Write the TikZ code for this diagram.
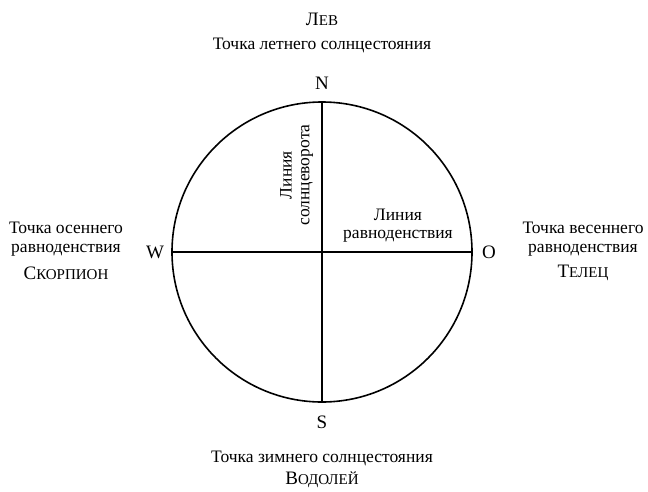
\documentclass[tikz,border=0pt]{standalone}
\usepackage{fontspec}
\setmainfont{Liberation Serif}
\newcommand{\bigc}[1]{{\fontsize{19}{21}\selectfont #1}}
\newcommand{\smc}[1]{{\fontsize{15}{17}\selectfont #1}}
\begin{document}
\begin{tikzpicture}[x=1pt,y=-1pt,
  txt/.style={inner sep=0pt, font=\fontsize{17.5}{19}\selectfont},
  lbl/.style={inner sep=0pt, font=\fontsize{19}{21}\selectfont}]
\useasboundingbox (0,0) rectangle (648,491);
\coordinate (c) at (322,252);
\draw[line width=1.6pt] (c) circle (150);
\coordinate (top) at (322,102);
\coordinate (bot) at (322,402);
\coordinate (lft) at (172,252);
\coordinate (rgt) at (472,252);
\draw[line width=1.1pt] (top) -- (bot);
\draw[line width=1.1pt] (lft) -- (rgt);
% compass
\node[lbl] (n) at (322,83) {N};
\node[lbl] (s) at (322,422) {S};
\node[lbl] (w) at (155,252) {W};
\node[lbl] (o) at (489,252) {O};
% top
\node[txt] (lev) at (322,19) {\bigc{Л}\smc{ЕВ}};
\node[txt] (tl) at (322,45) {Точка летнего солнцестояния};
% bottom
\node[txt] (tz) at (322,458) {Точка зимнего солнцестояния};
\node[txt] (vod) at (322,480) {\bigc{В}\smc{ОДОЛЕЙ}};
% left
\node[txt] (to) at (66,228) {Точка осеннего};
\node[txt] (ro) at (66,250) {равноденствия};
\node[txt] (sk) at (66,273) {\bigc{С}\smc{КОРПИОН}};
% right
\node[txt] (tv) at (583,228) {Точка весеннего};
\node[txt] (rv) at (583,250) {равноденствия};
\node[txt] (tel) at (583,273) {\bigc{Т}\smc{ЕЛЕЦ}};
% inner labels
\node[txt] (lr1) at (398,215) {Линия};
\node[txt] (lr2) at (398,236) {равноденствия};
\node[txt,rotate=90] (ls1) at (286,175) {Линия};
\node[txt,rotate=90] (ls2) at (307,175) {солнцеворота};
\end{tikzpicture}
\end{document}
